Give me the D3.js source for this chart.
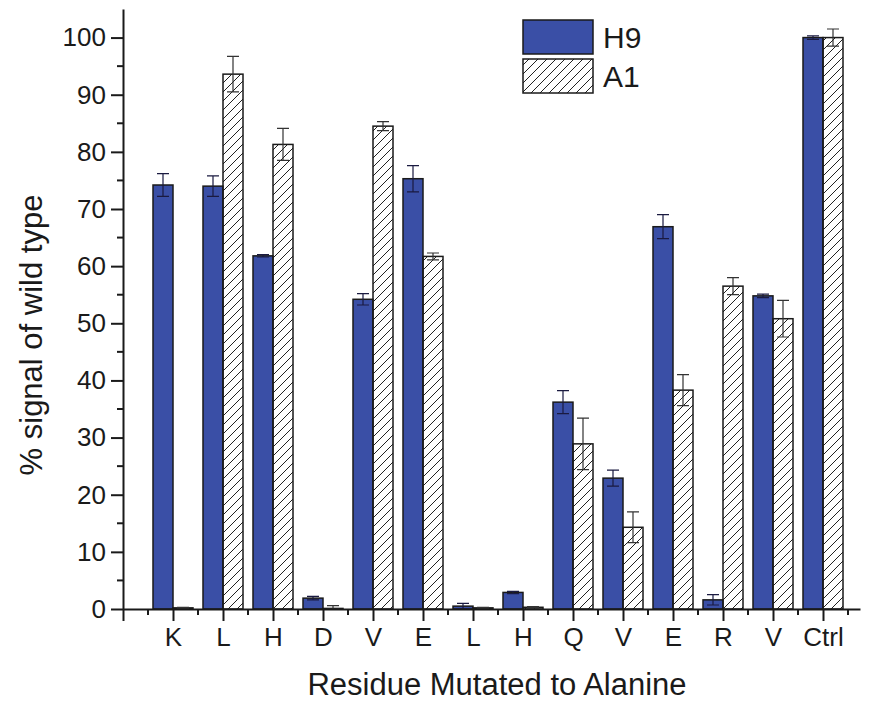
<!DOCTYPE html>
<html>
<head>
<meta charset="utf-8">
<script src="https://cdn.jsdelivr.net/npm/d3@7"></script>
<style>
  body { margin: 0; background: #fff; }
  svg text { font-family: "Liberation Sans", Arial, sans-serif; fill: #1a1a1a; }
</style>
</head>
<body>
<div id="chart"></div>
<script>
// residues mutated to alanine (plus control)
const residues = ["K", "L", "H", "D", "V", "E", "L", "H", "Q", "V", "E", "R", "V", "Ctrl"];
const h9 = [74.2, 74.0, 61.8, 1.9, 54.2, 75.3, 0.5, 2.9, 36.2, 22.9, 66.9, 1.6, 54.8, 100.0];
const h9Err = [2.0, 1.8, 0.2, 0.3, 1.0, 2.3, 0.5, 0.2, 2.0, 1.4, 2.1, 0.9, 0.3, 0.3];
const a1 = [0.2, 93.6, 81.3, 0.1, 84.5, 61.7, 0.2, 0.3, 28.9, 14.3, 38.3, 56.5, 50.8, 100.0];
const a1Err = [0.1, 3.1, 2.8, 0.5, 0.8, 0.6, 0.1, 0.1, 4.5, 2.7, 2.7, 1.5, 3.2, 1.5];
const yTicks = [0, 10, 20, 30, 40, 50, 60, 70, 80, 90, 100];

const width = 870, height = 705;
const mLeft = 123, mRight = 860, mTop = 9, mBottom = 609;

const svg = d3.select("#chart").append("svg")
    .attr("width", width)
    .attr("height", height);

// hatch pattern for A1
const defs = svg.append("defs");
defs.append("pattern")
    .attr("id", "hatch")
    .attr("patternUnits", "userSpaceOnUse")
    .attr("width", 9).attr("height", 9)
  .append("path")
    .attr("d", "M-2,11 L11,-2 M-2,2 L2,-2 M7,11 L11,7")
    .attr("stroke", "#222")
    .attr("stroke-width", 1);

const x = d3.scaleLinear().domain([0, 14.74]).range([mLeft, mRight]);
const y = d3.scaleLinear().domain([0, 105]).range([mBottom, mTop]);
const barW = 0.4;

const data = residues.map((r, i) => ({
    pos: i + 1, name: r,
    h9: h9[i], h9e: h9Err[i],
    a1: a1[i], a1e: a1Err[i]
}));

const blue = "#3a4fa6";

// H9 bars
svg.append("g").selectAll("rect")
    .data(data).enter().append("rect")
    .attr("x", d => x(d.pos - barW))
    .attr("y", d => y(d.h9))
    .attr("width", x(barW) - x(0))
    .attr("height", d => y(0) - y(d.h9))
    .attr("fill", blue)
    .attr("stroke", "#1a1a1a")
    .attr("stroke-width", 1.5);

// A1 bars
svg.append("g").selectAll("rect")
    .data(data).enter().append("rect")
    .attr("x", d => x(d.pos))
    .attr("y", d => y(d.a1))
    .attr("width", x(barW) - x(0))
    .attr("height", d => y(0) - y(d.a1))
    .attr("fill", "url(#hatch)")
    .attr("stroke", "#1a1a1a")
    .attr("stroke-width", 1.5);

// error bars
function errorBars(key, errKey, offset, color) {
    const g = svg.append("g").attr("stroke", color).attr("stroke-width", 1.2).attr("fill", "none");
    data.forEach(d => {
        const cx = x(d.pos + offset);
        const y1 = y(d[key] + d[errKey]), y0 = y(Math.max(0, d[key] - d[errKey]));
        g.append("path").attr("d",
            `M${cx},${y0}V${y1}M${cx - 6},${y1}H${cx + 6}M${cx - 6},${y0}H${cx + 6}`);
    });
}
errorBars("h9", "h9e", -barW / 2, "#1a1a40");
errorBars("a1", "a1e", barW / 2, "#333");

// y axis
const yAxis = svg.append("g")
    .attr("transform", `translate(${mLeft},0)`)
    .call(d3.axisLeft(y).tickValues(yTicks).tickSize(12).tickPadding(5).tickSizeOuter(0));
yAxis.selectAll("text").style("font-size", "26px");
yAxis.append("g").selectAll("line")
    .data(d3.range(5, 105, 10)).enter().append("line")
    .attr("x1", -6).attr("x2", 0)
    .attr("y1", d => y(d)).attr("y2", d => y(d));

// x axis
const xAxis = svg.append("g")
    .attr("transform", `translate(0,${mBottom})`)
    .call(d3.axisBottom(x).tickValues(d3.range(0, 15)).tickSize(12).tickPadding(7).tickSizeOuter(0)
        .tickFormat(i => i === 0 ? "" : residues[i - 1]));
xAxis.selectAll("text").style("font-size", "26px");
xAxis.append("g").selectAll("line")
    .data(d3.range(0.5, 14.6, 1)).enter().append("line")
    .attr("y1", 0).attr("y2", 6)
    .attr("x1", d => x(d)).attr("x2", d => x(d));

svg.selectAll(".domain, .tick line, g > g > line")
    .attr("stroke", "#1a1a1a")
    .attr("stroke-width", 2);

// axis titles
svg.append("text")
    .attr("x", 497).attr("y", 695)
    .attr("text-anchor", "middle")
    .style("font-size", "31px")
    .text("Residue Mutated to Alanine");

svg.append("text")
    .attr("transform", "translate(42,335) rotate(-90)")
    .attr("text-anchor", "middle")
    .style("font-size", "31px")
    .text("% signal of wild type");

// legend
const legend = svg.append("g").attr("transform", "translate(523,20)");
const series = [{ name: "H9", fill: blue }, { name: "A1", fill: "url(#hatch)" }];
series.forEach((s, i) => {
    legend.append("rect")
        .attr("x", 0).attr("y", i * 39)
        .attr("width", 70).attr("height", 34)
        .attr("fill", s.fill)
        .attr("stroke", "#1a1a1a").attr("stroke-width", 1.5);
    legend.append("text")
        .attr("x", 80).attr("y", i * 39 + 28)
        .style("font-size", "30px")
        .text(s.name);
});
</script>
</body>
</html>
